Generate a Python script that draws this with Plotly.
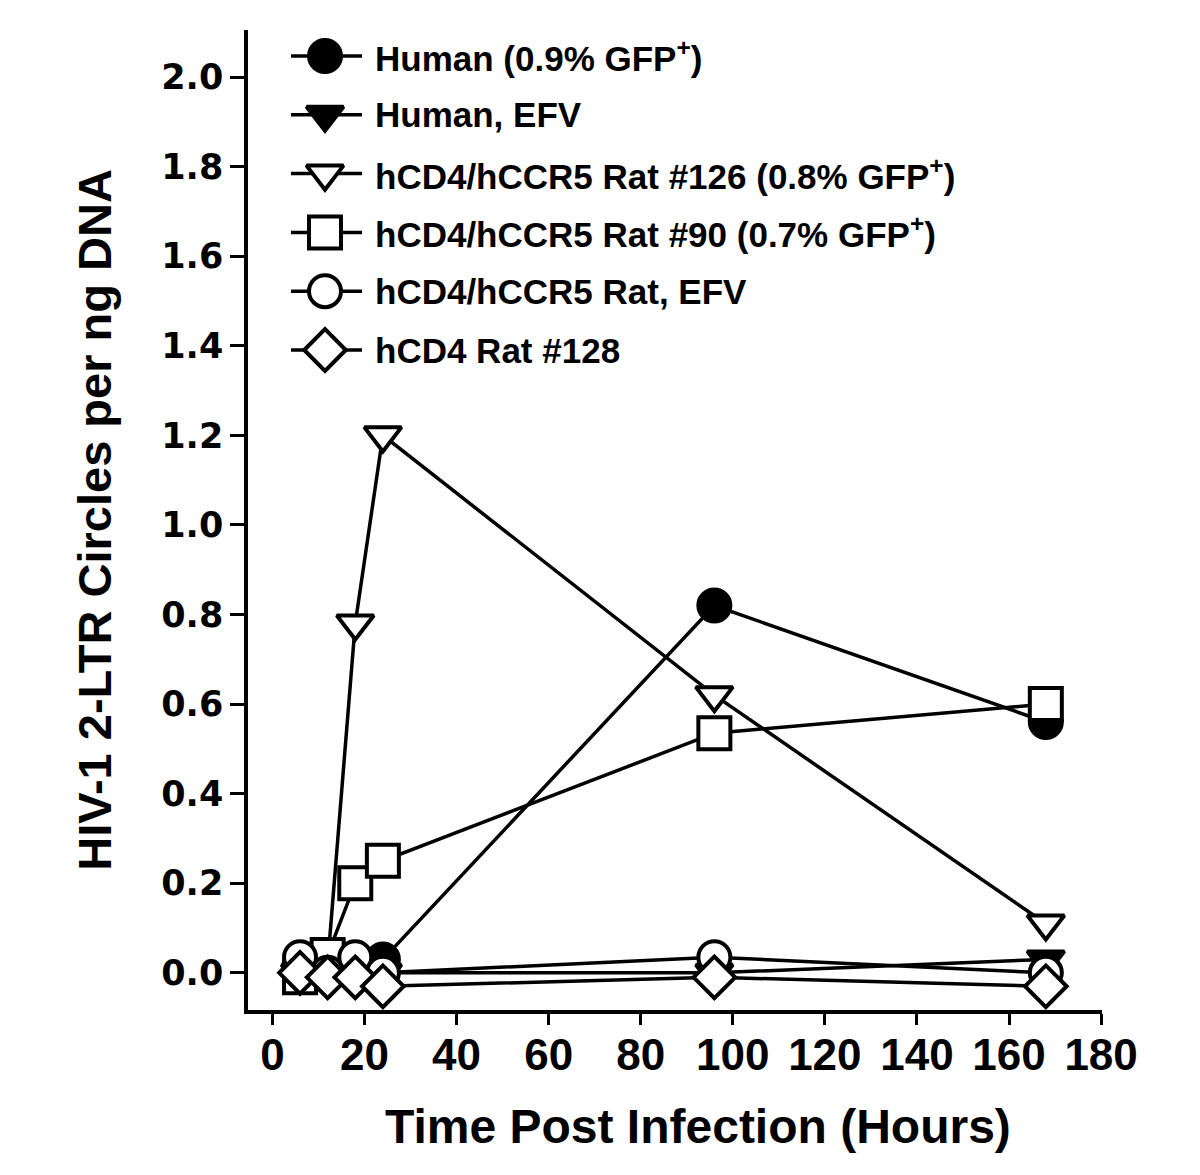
import plotly.graph_objects as go

hours = [6, 12, 18, 24, 96, 168]

human = [0.0, 0.01, 0.02, 0.03, 0.82, 0.56]
human_efv = [-0.01, -0.01, -0.01, 0.0, 0.0, 0.03]
rat126 = [0.0, 0.02, 0.78, 1.2, 0.62, 0.11]
rat90 = [-0.01, 0.04, 0.2, 0.25, 0.535, 0.6]
rat_efv = [0.035, 0.0, 0.035, 0.0, 0.035, 0.0]
rat128 = [0.0, -0.01, -0.01, -0.03, -0.01, -0.03]

names = [
    "Human (0.9% GFP<sup>+</sup>)",
    "Human, EFV",
    "hCD4/hCCR5 Rat #126 (0.8% GFP<sup>+</sup>)",
    "hCD4/hCCR5 Rat #90 (0.7% GFP<sup>+</sup>)",
    "hCD4/hCCR5 Rat, EFV",
    "hCD4 Rat #128",
]
series = [human, human_efv, rat126, rat90, rat_efv, rat128]
symbols = ["circle", "triangle-down", "triangle-down", "square", "circle", "diamond"]
fills = ["black", "black", "white", "white", "white", "white"]

y_ticks = [0.0, 0.2, 0.4, 0.6, 0.8, 1.0, 1.2, 1.4, 1.6, 1.8, 2.0]
x_ticks = [0, 20, 40, 60, 80, 100, 120, 140, 160, 180]

FONT = "Liberation Sans, Arial, sans-serif"
WIDE = "DejaVu Sans, Verdana, sans-serif"

# plot-area geometry (pixels); page body adds an 8px offset
ML, MR, MT, MB = 240, 106, 22, 173
PW = 1200 - ML - MR
PH = 1175 - MT - MB

# legend layout, in pixels relative to the plot area's top-left corner
LEG_LINE = [43, 77, 114]     # left end, marker, right end of key line
LEG_TEXT_X = 125
LEG_ROW0 = 26
LEG_ROW_STEP = 58.8

LINE_W = 3.5

fig = go.Figure()
for i, (nm, ys, sym, fc) in enumerate(zip(names, series, symbols, fills)):
    fig.add_trace(go.Scatter(
        x=hours, y=ys, name=nm, mode="lines+markers", showlegend=False,
        line=dict(color="black", width=LINE_W),
        marker=dict(symbol=sym, size=32, color=fc,
                    line=dict(color="black", width=4)),
    ))

# custom legend (keys drawn on a pixel-unit overlay axis)
for i, (nm, sym, fc) in enumerate(zip(names, symbols, fills)):
    row_y = LEG_ROW0 + i * LEG_ROW_STEP
    fig.add_trace(go.Scatter(
        x=[LEG_LINE[0], LEG_LINE[2]], y=[row_y, row_y], xaxis="x2", yaxis="y2",
        mode="lines", showlegend=False, hoverinfo="skip",
        line=dict(color="black", width=LINE_W),
    ))
    fig.add_trace(go.Scatter(
        x=[LEG_LINE[1]], y=[row_y], xaxis="x2", yaxis="y2",
        mode="markers", showlegend=False, hoverinfo="skip",
        marker=dict(symbol=sym, size=32, color=fc, opacity=1,
                    line=dict(color="black", width=4)),
    ))
    fig.add_annotation(
        x=LEG_TEXT_X, y=row_y, xref="x2", yref="y2", text=nm,
        showarrow=False, xanchor="left", yanchor="middle",
        font=dict(family=FONT, size=35, color="black", weight="bold"),
    )

fig.add_annotation(
    x=0.527, y=-0.119, xref="paper", yref="paper",
    text="Time Post Infection (Hours)", showarrow=False,
    xanchor="center", yanchor="middle",
    font=dict(family=FONT, size=48, color="black", weight="bold"),
)

fig.update_layout(
    width=1200, height=1175,
    paper_bgcolor="white", plot_bgcolor="white",
    margin=dict(l=ML, r=MR, t=MT, b=MB),
    showlegend=False,
    xaxis=dict(
        range=[-5.3, 180.2], tickvals=x_ticks, ticktext=[str(v) for v in x_ticks],
        showline=True, linecolor="black", linewidth=3.5,
        ticks="outside", ticklen=11, tickwidth=2.5, tickcolor="black",
        ticklabelstandoff=-8,
        showgrid=False, zeroline=False, mirror=False, automargin=False,
        tickfont=dict(family=FONT, size=44, color="black", weight="bold"),
    ),
    yaxis=dict(
        range=[-0.083, 2.105], tickvals=y_ticks, ticktext=[f"{v:.1f}" for v in y_ticks],
        showline=True, linecolor="black", linewidth=3.5,
        ticks="outside", ticklen=14, tickwidth=2.5, tickcolor="black",
        showgrid=False, zeroline=False, mirror=False, automargin=False,
        tickfont=dict(family=WIDE, size=35, color="black", weight="bold"),
        title=dict(text="HIV-1 2-LTR Circles per ng DNA", standoff=36,
                   font=dict(family=FONT, size=47, color="black", weight="bold")),
    ),
    xaxis2=dict(overlaying="x", anchor="y2", range=[0, PW], visible=False,
                fixedrange=True),
    yaxis2=dict(overlaying="y", anchor="x2", range=[PH, 0], visible=False,
                fixedrange=True),
)

fig.write_html("out.html")
